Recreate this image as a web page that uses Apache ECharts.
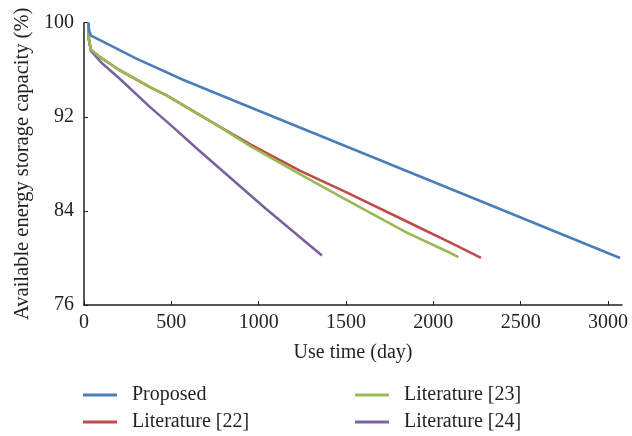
<!DOCTYPE html>
<html>
<head>
<meta charset="utf-8">
<script src="https://cdn.jsdelivr.net/npm/echarts@6/dist/echarts.min.js"></script>
<style>html,body{margin:0;padding:0;background:#fff}#c{width:632px;height:436px}</style>
</head>
<body>
<div id="c"></div>
<script>
const seriesNames = ['Proposed', 'Literature [22]', 'Literature [23]', 'Literature [24]'];
const xTicks = [0, 500, 1000, 1500, 2000, 2500, 3000];
const yTicks = [76, 84, 92, 100];

const proposedDays = [25, 30, 40, 100, 300, 570, 1000, 1524, 1963, 2325, 2700, 3069];
const proposedVals = [100, 99.3, 98.9, 98.45, 96.95, 95.13, 92.52, 89.35, 86.69, 84.5, 82.23, 80.0];

const lit22Days = [25, 28, 40, 94, 200, 380, 475, 761, 952, 1238, 1500, 1848, 2098, 2273];
const lit22Vals = [100, 98.6, 97.7, 97.05, 96.0, 94.5, 93.8, 91.3, 89.65, 87.4, 85.6, 83.1, 81.3, 80.0];

const lit23Days = [25, 28, 40, 94, 200, 380, 475, 761, 952, 1238, 1500, 1848, 2098, 2144];
const lit23Vals = [100, 98.6, 97.7, 97.05, 96.0, 94.5, 93.8, 91.3, 89.5, 87.1, 84.95, 82.15, 80.42, 80.07];

const lit24Days = [25, 28, 40, 100, 200, 380, 500, 654, 1038, 1362];
const lit24Vals = [100, 98.5, 97.6, 96.6, 95.3, 92.8, 91.25, 89.2, 84.23, 80.2];

const colors = ['#4a7ebb', '#be4b48', '#98b954', '#7d60a0'];
const zOrder = [10, 8, 9, 7];

function pairs(xs, ys) { return xs.map((x, i) => [x, ys[i]]); }

const allData = [
  pairs(proposedDays, proposedVals),
  pairs(lit22Days, lit22Vals),
  pairs(lit23Days, lit23Vals),
  pairs(lit24Days, lit24Vals)
];

const FONT = 'Liberation Serif';
const TXT = '#231f20';

const chart = echarts.init(document.getElementById('c'), null, {renderer: 'canvas'});
const legendText = {fontFamily: FONT, fontSize: 20, color: TXT, padding: [0, 0, 0, 10]};
chart.setOption({
  animation: false,
  backgroundColor: '#ffffff',
  grid: {left: 84, top: 22.7, right: 10, bottom: 131, containLabel: false},
  legend: [
    {
      data: [seriesNames[0], seriesNames[1]],
      orient: 'vertical', left: 83, top: 385, padding: 0, itemGap: 7,
      itemWidth: 34, itemHeight: 3, icon: 'rect', textStyle: legendText, itemStyle: {borderWidth: 0}
    },
    {
      data: [seriesNames[2], seriesNames[3]],
      orient: 'vertical', left: 355, top: 385, padding: 0, itemGap: 7,
      itemWidth: 34, itemHeight: 3, icon: 'rect', textStyle: legendText, itemStyle: {borderWidth: 0}
    }
  ],
  xAxis: {
    type: 'value', min: 0, max: 3080, interval: 500,
    name: 'Use time (day)', nameLocation: 'middle', nameGap: 38,
    nameTextStyle: {fontFamily: FONT, fontSize: 20, color: TXT},
    axisLine: {show: true, lineStyle: {color: '#231f20', width: 1.5}},
    axisTick: {show: true, inside: true, length: 4, customValues: xTicks, lineStyle: {color: '#231f20'}},
    axisLabel: {fontFamily: FONT, fontSize: 20, color: TXT, margin: 8, customValues: xTicks,
      formatter: v => String(v)},
    splitLine: {show: false}
  },
  yAxis: {
    type: 'value', min: 76, max: 100, interval: 8,
    name: 'Available energy storage capacity (%)', nameLocation: 'middle', nameGap: 51,
    nameTextStyle: {fontFamily: FONT, fontSize: 20.5, color: TXT},
    axisLine: {show: true, lineStyle: {color: '#231f20', width: 1.5}},
    axisTick: {show: true, inside: true, length: 4, customValues: yTicks, lineStyle: {color: '#231f20'}},
    axisLabel: {fontFamily: FONT, fontSize: 20, color: TXT, margin: 10, customValues: yTicks,
      formatter: v => String(v)},
    splitLine: {show: false}
  },
  series: seriesNames.map((n, i) => ({
    name: n, type: 'line', data: allData[i],
    showSymbol: false, symbol: 'none',
    smooth: false,
    lineStyle: {color: colors[i], width: 2.6},
    itemStyle: {color: colors[i]},
    z: zOrder[i]
  }))
});
</script>
</body>
</html>
